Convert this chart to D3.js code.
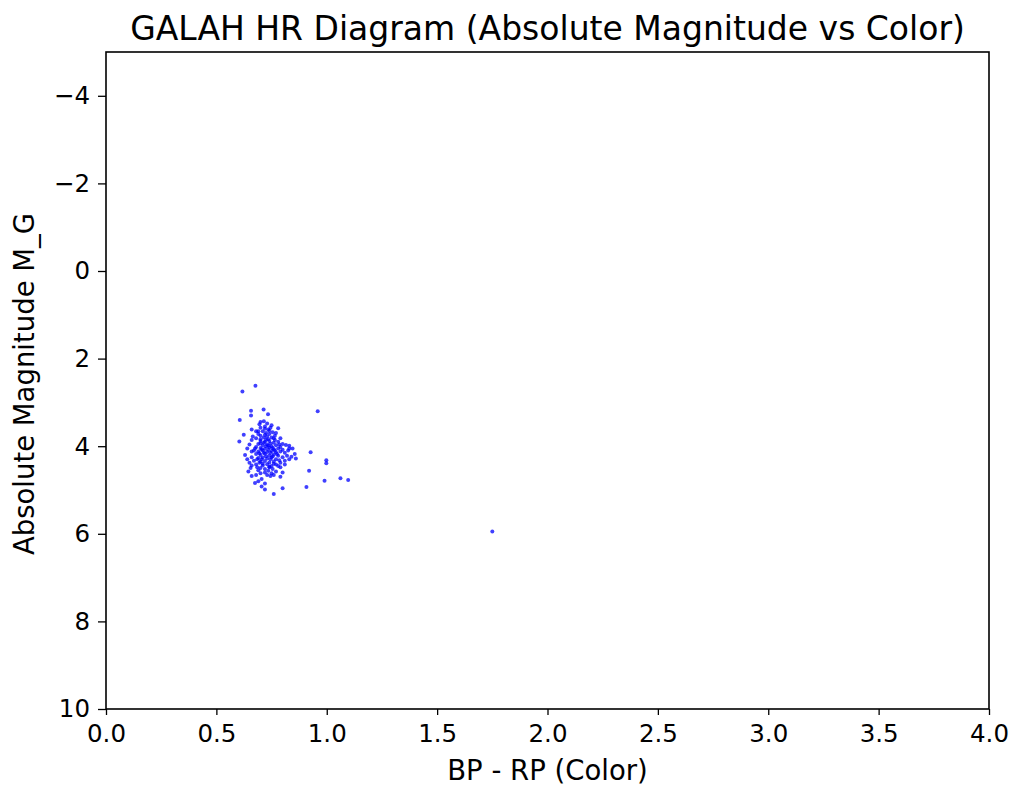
<!DOCTYPE html>
<html>
<head>
<meta charset="utf-8">
<script src="https://cdn.jsdelivr.net/npm/d3@7"></script>
<style>
  body { margin: 0; background: #fff; }
  text { font-family: "DejaVu Sans", sans-serif; fill: #000; }
</style>
</head>
<body>
<div id="chart"></div>
<script>
// BP - RP colour of each star
const bpRp = [
  0.677, 0.618, 0.959, 0.657, 0.657, 0.714, 0.734, 0.606, 0.70, 0.715,
  0.73, 0.695, 0.78, 0.66, 0.624, 0.604, 0.76, 0.83, 0.825, 0.927,
  0.998, 0.998, 0.84, 0.83, 0.81, 0.92, 0.99, 1.062, 1.097, 0.908,
  0.80, 0.76, 0.72, 1.75,
  0.645, 0.66, 0.68, 0.675, 0.69, 0.705, 0.73, 0.745, 0.76, 0.755,
  0.74, 0.78, 0.65, 0.63, 0.64, 0.66, 0.79, 0.80, 0.77, 0.70,
  0.69, 0.655, 0.72, 0.705,
  0.70, 0.72, 0.735, 0.745, 0.71, 0.725, 0.74, 0.755, 0.69, 0.73,
  0.715, 0.70, 0.75, 0.765, 0.68, 0.66,
  0.70, 0.72, 0.74, 0.76, 0.78, 0.80, 0.815, 0.69, 0.71, 0.73,
  0.75, 0.77, 0.79, 0.68, 0.70, 0.72, 0.74, 0.76, 0.78, 0.80,
  0.67, 0.69, 0.71, 0.73, 0.75, 0.77, 0.79, 0.81, 0.68, 0.70,
  0.72, 0.74, 0.76, 0.78, 0.66, 0.69, 0.71, 0.73, 0.75, 0.77,
  0.67, 0.70, 0.72, 0.74, 0.76, 0.79, 0.68, 0.71, 0.73, 0.75,
  0.77, 0.70, 0.72, 0.735,
  0.725, 0.735, 0.745, 0.705, 0.715, 0.755, 0.765, 0.725, 0.745, 0.705,
  0.695, 0.715, 0.735, 0.70, 0.72, 0.745, 0.65, 0.665, 0.64, 0.66,
  0.855, 0.86, 0.845, 0.82, 0.80, 0.785, 0.79, 0.81, 0.68, 0.75,
  0.77, 0.79, 0.735, 0.755, 0.775, 0.695, 0.685, 0.71, 0.76, 0.74,
  0.72, 0.75, 0.685, 0.675, 0.70, 0.725, 0.74, 0.72, 0.69, 0.765,
  0.785, 0.83
];

// absolute G magnitude of each star
const absMag = [
  2.62, 2.75, 3.20, 3.19, 3.30, 3.16, 3.27, 3.40, 3.45, 3.43,
  3.48, 3.50, 3.59, 3.62, 3.74, 3.89, 3.82, 3.99, 4.10, 4.14,
  4.32, 4.39, 4.24, 4.30, 4.33, 4.56, 4.79, 4.73, 4.77, 4.93,
  4.96, 5.09, 4.99, 5.95,
  4.58, 4.68, 4.66, 4.84, 4.80, 4.75, 4.66, 4.68, 4.66, 4.52,
  4.48, 4.45, 4.38, 4.20, 4.05, 4.12, 4.70, 4.60, 4.58, 4.62,
  4.55, 4.50, 4.85, 4.92,
  3.58, 3.60, 3.62, 3.58, 3.66, 3.70, 3.72, 3.68, 3.72, 3.78,
  3.80, 3.76, 3.80, 3.76, 3.82, 3.86,
  3.88, 3.90, 3.88, 3.92, 3.90, 3.95, 3.97, 3.95, 3.98, 3.96,
  4.00, 3.98, 4.02, 4.02, 4.04, 4.06, 4.03, 4.07, 4.05, 4.08,
  4.10, 4.12, 4.10, 4.13, 4.11, 4.14, 4.12, 4.15, 4.18, 4.20,
  4.17, 4.21, 4.19, 4.22, 4.25, 4.27, 4.26, 4.28, 4.26, 4.30,
  4.33, 4.35, 4.34, 4.37, 4.35, 4.38, 4.42, 4.44, 4.41, 4.45,
  4.42, 4.50, 4.52, 4.56,
  4.00, 4.08, 4.15, 4.07, 4.15, 4.04, 4.10, 4.23, 4.30, 4.30,
  4.38, 3.92, 3.84, 3.84, 3.74, 3.94, 3.96, 3.78, 4.30, 4.44,
  4.18, 4.28, 4.05, 4.22, 4.25, 4.32, 4.48, 4.42, 3.66, 3.52,
  3.70, 3.82, 3.99, 4.23, 4.18, 4.16, 4.30, 4.40, 4.40, 4.47,
  4.60, 4.62, 4.48, 4.05, 3.93, 3.85, 3.65, 3.55, 3.66, 3.86,
  3.96, 4.05
];

const xTicks = [0.0, 0.5, 1.0, 1.5, 2.0, 2.5, 3.0, 3.5, 4.0];
const yTicks = [-4, -2, 0, 2, 4, 6, 8, 10];

const stars = bpRp.map((c, i) => ({ color: c, mag: absMag[i] }));

const width = 1024, height = 799;
const margin = { left: 106, right: 989, top: 52, bottom: 709 };

const svg = d3.select("#chart").append("svg")
    .attr("width", width)
    .attr("height", height);

const x = d3.scaleLinear().domain([0, 4]).range([margin.left, margin.right]);
// magnitudes run downwards: brighter stars at the top
const y = d3.scaleLinear().domain([-5, 10]).range([margin.top, margin.bottom]);

// stars
svg.append("g")
    .selectAll("circle")
    .data(stars)
    .enter().append("circle")
    .attr("cx", d => x(d.color))
    .attr("cy", d => y(d.mag))
    .attr("r", 2)
    .attr("fill", "#0000ff")
    .attr("fill-opacity", 0.75);

// axes
const xAxis = svg.append("g")
    .attr("transform", `translate(0,${margin.bottom})`)
    .call(d3.axisBottom(x).tickValues(xTicks).tickFormat(d3.format(".1f")).tickSizeOuter(0).tickSize(6).tickPadding(10));

const yAxis = svg.append("g")
    .attr("transform", `translate(${margin.left},0)`)
    .call(d3.axisLeft(y).tickValues(yTicks).tickFormat(d => d < 0 ? "\u2212" + Math.abs(d) : d).tickSizeOuter(0).tickSize(8).tickPadding(8));

[xAxis, yAxis].forEach(g => {
    g.selectAll("text").style("font-size", "24.5px").attr("font-family", null);
    g.selectAll(".tick line").attr("stroke", "#000").attr("stroke-width", 1.3);
    g.select(".domain").remove();
});

// frame around the plot area
svg.append("rect")
    .attr("x", margin.left)
    .attr("y", margin.top)
    .attr("width", margin.right - margin.left)
    .attr("height", margin.bottom - margin.top)
    .attr("fill", "none")
    .attr("stroke", "#000")
    .attr("stroke-width", 1.6);

// title and labels
svg.append("text")
    .attr("x", (margin.left + margin.right) / 2)
    .attr("y", 40)
    .attr("text-anchor", "middle")
    .style("font-size", "33px")
    .text("GALAH HR Diagram (Absolute Magnitude vs Color)");

svg.append("text")
    .attr("x", (margin.left + margin.right) / 2)
    .attr("y", 780)
    .attr("text-anchor", "middle")
    .style("font-size", "27.5px")
    .text("BP - RP (Color)");

svg.append("text")
    .attr("transform", `translate(34,384) rotate(-90)`)
    .attr("text-anchor", "middle")
    .style("font-size", "27.5px")
    .text("Absolute Magnitude M_G");
</script>
</body>
</html>
